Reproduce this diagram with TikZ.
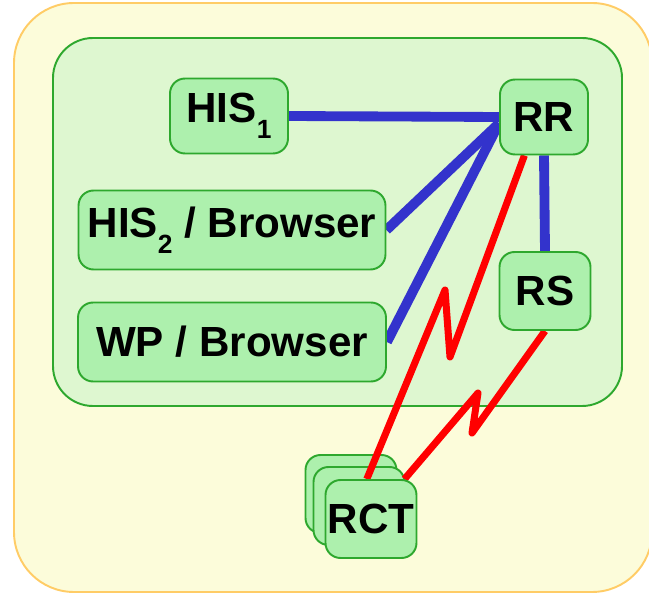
\documentclass[tikz,border=0pt]{standalone}
\usepackage{fontspec}
\setmainfont{Liberation Sans}
\definecolor{paneyellow}{RGB}{252,252,218}
\definecolor{paneorange}{RGB}{255,204,102}
\definecolor{zonegreen}{RGB}{222,247,208}
\definecolor{boxfill}{RGB}{173,240,173}
\definecolor{boxline}{RGB}{46,168,46}
\definecolor{linkblue}{RGB}{51,51,204}
\definecolor{radiored}{RGB}{255,0,0}
\newcommand{\lowsub}[1]{\raisebox{-0.38em}{\fontsize{15}{15}\selectfont #1}}
\pgfdeclarelayer{back}
\pgfdeclarelayer{wires}
\pgfsetlayers{back,wires,main}
\tikzset{
  box/.style={draw=boxline, fill=boxfill, line width=1.1pt, rounded corners=0.3cm,
    inner sep=0pt, font=\fontsize{24}{28}\selectfont\bfseries},
  link/.style={draw=linkblue, line width=5.6pt},
  radio/.style={draw=radiored, line width=4pt, line join=round}
}
\begin{document}
\begin{tikzpicture}[x=0.02cm, y=-0.02cm]
  \useasboundingbox (0,0) rectangle (649,594);
  % hosts inside the hospital zone
  \node[box, minimum width=2.36cm, minimum height=1.5cm] (his1) at (229,116) {HIS\lowsub{1}};
  \node[box, minimum width=1.76cm, minimum height=1.5cm] (rr) at (544,117) {RR};
  \node[box, minimum width=6.14cm, minimum height=1.58cm] (his2) at (232,230) {HIS\lowsub{2} / Browser};
  \node[box, minimum width=6.16cm, minimum height=1.58cm] (wp) at (232,342) {WP / Browser};
  \node[box, minimum width=1.82cm, minimum height=1.56cm] (rs) at (545,291) {RS};
  % terminal
  \node[box, minimum width=1.82cm, minimum height=1.56cm] (rct) at (371,519) {RCT};
  \begin{pgfonlayer}{wires}
    \node[box, minimum width=1.82cm, minimum height=1.56cm] (rctc) at (351,494) {};
    \node[box, minimum width=1.82cm, minimum height=1.56cm] (rctb) at (359,506) {};
    \draw[link] (his1.east) -- (rr.west);
    \draw[link] (his2.east) -- (rr.188);
    \draw[link] (wp.east) -- (rr.188);
    \draw[link] (rr.south) -- (rs.north);
    \draw[radio] (rr.243) -- (450,357) -- (445,290) -- (rct.96);
    \draw[radio] (rs.south) -- (472,433) -- (478,393) -- (rct.50);
  \end{pgfonlayer}
  \begin{pgfonlayer}{back}
    \draw[paneorange, fill=paneyellow, line width=1.1pt, rounded corners=1.2cm] (14,3) rectangle (652,592);
    \draw[boxline, fill=zonegreen, line width=1.1pt, rounded corners=0.8cm] (53,38) rectangle (622,406);
  \end{pgfonlayer}
\end{tikzpicture}
\end{document}
